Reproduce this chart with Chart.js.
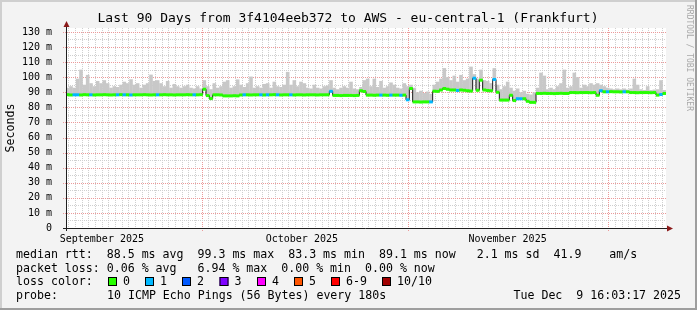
<!DOCTYPE html>
<html>
<head>
<meta charset="utf-8">
<script src="https://cdn.jsdelivr.net/npm/chart.js@4/dist/chart.umd.min.js"></script>
<style>
  html, body { margin: 0; padding: 0; background: #f3f3f3; }
  canvas { display: block; }
</style>
</head>
<body>
<canvas id="c" width="697" height="310" style="width:697px;height:310px"></canvas>
<script>
// samples every 12h, starting Sep 10 16:03 (x = days since Sep 1)
const startDay = 9.669
const stepDays = 0.5

// median rtt per sample (ms)
const median = [
  88.4, 88.2, 88.3, 88.3, 88.2, 88.4, 88.3, 88.3, 88.2, 88.3,
  88.3, 88.4, 88.3, 88.2, 88.3, 88.3, 88.4, 88.3, 88.3, 88.2,
  88.3, 88.3, 88.3, 88.4, 88.3, 88.2, 88.3, 88.3, 88.3, 88.4,
  88.3, 88.3, 88.2, 88.3, 88.3, 88.3, 88.4, 88.3, 88.3, 88.3,
  88.4, 92.0, 87.8, 85.8, 88.3, 88.3, 88.2, 87.6, 87.6, 87.6,
  87.7, 87.6, 88.2, 88.3, 88.3, 88.2, 88.3, 88.3, 88.3, 88.2,
  88.3, 88.3, 88.4, 88.3, 88.2, 88.3, 88.3, 88.3, 88.2, 88.3,
  88.3, 88.2, 88.3, 88.3, 88.3, 88.2, 88.3, 88.3, 88.3, 90.6,
  87.9, 87.9, 87.8, 87.9, 87.9, 87.9, 87.8, 87.9, 91.0, 90.5,
  88.1, 88.1, 88.0, 88.1, 88.1, 88.1, 88.0, 88.1, 88.1, 88.1,
  88.0, 88.1, 85.0, 92.5, 83.6, 83.6, 83.5, 83.6, 83.6, 83.6,
  90.7, 90.6, 91.5, 92.5, 92.0, 91.5, 91.5, 91.2, 91.5, 91.3,
  91.0, 90.8, 99.3, 91.3, 98.0, 91.5, 91.2, 91.0, 98.5, 90.0,
  84.8, 84.8, 84.8, 88.0, 84.5, 85.7, 85.7, 85.7, 84.0, 83.3,
  83.3, 89.2, 89.2, 89.3, 89.2, 89.2, 89.1, 89.2, 89.3, 89.2,
  89.2, 89.8, 89.8, 89.7, 89.8, 89.8, 89.8, 89.7, 89.8, 88.0,
  91.0, 90.3, 90.3, 90.4, 90.3, 90.3, 90.2, 90.3, 90.3, 89.8,
  89.8, 89.7, 89.8, 89.8, 89.8, 89.7, 89.8, 88.1, 88.5, 89.2
]

// highest ping per sample (top of the smoke, ms)
const smokeTop = [
  93, 94, 93, 99, 105, 95, 101.5, 96, 94, 97.5,
  96, 98, 96, 93, 94, 93.5, 95, 97, 96, 98.6,
  95, 96, 93, 95, 96, 101.7, 97.5, 98, 96, 94,
  97.5, 93, 95.5, 94, 93, 94, 95, 93, 92.5, 94,
  92.5, 98, 94, 92, 96, 93, 94, 97, 98, 93,
  94, 98.5, 95, 93.5, 96, 100.4, 93, 94, 93, 95.5,
  96, 93, 97, 94, 93.5, 95, 103.5, 95, 98, 94,
  97, 96, 93, 92.5, 95, 93, 92.5, 94, 94.5, 98,
  93, 92, 93, 94, 93, 97, 92.5, 92, 93.5, 98,
  99, 94, 99, 93.5, 97.5, 93, 94, 96.5, 95, 93,
  92.5, 96, 94, 95, 93, 90, 91, 89.5, 90.5, 89,
  95, 97, 99, 106, 100, 98, 101, 97, 101.5, 98,
  99, 107, 102, 99, 105, 98, 97.5, 96, 106, 95,
  92, 94, 97, 93, 91, 92.5, 90, 91, 89, 88.5,
  90, 93, 103, 101, 92, 93, 92, 94, 96, 105,
  93, 94, 103, 100, 93, 95, 94, 96, 95, 96,
  95, 94, 93, 92.5, 92, 92.5, 92, 92.5, 91.8, 92.5,
  99, 95, 92, 91.5, 94, 91.5, 91.8, 92, 98, 91.5
]

// samples with packet loss (index, lost pings)
const lossSamples = [2, 3, 7, 15, 17, 19, 27, 38, 53, 58, 60, 63, 67, 79, 94, 97, 100, 102, 109, 117, 122, 128, 135, 136, 160, 162, 167, 178]
const lossLevels  = [1, 1, 1, 1, 1, 1, 1, 1, 1, 1, 1, 1, 1, 1, 1, 1, 1, 1, 1, 1, 1, 1, 1, 1, 1, 1, 1, 1]

const lossColors = ["#26ff00", "#00b8ff", "#0059ff", "#7e00ff", "#ff00ff", "#ff5500", "#ff0000", "#a00000"]
const lossNames  = ["0", "1", "2", "3", "4", "5", "6-9", "10/10"]

const monthStarts = [30, 61, 91]
const monthLabelDays = [15.05, 45.05, 75.9]
const monthLabels = ["September 2025", "October 2025", "November 2025"]
const yTicks = [0, 10, 20, 30, 40, 50, 60, 70, 80, 90, 100, 110, 120, 130]

const mono = '"DejaVu Sans Mono", "Liberation Mono", monospace'

const xs = median.map((_, i) => startDay + stepDays * (i + 0.5))
const lossAt = median.map(() => 0)
lossSamples.forEach((s, k) => { lossAt[s] = lossLevels[k] })
const bandColor = lossAt.map(l => lossColors[l >= 10 ? 7 : l >= 6 ? 6 : l])

const smokeData = median.map((m, i) => ({ x: xs[i], y: [m, smokeTop[i]] }))
const bandData  = median.map((m, i) => ({ x: xs[i], y: [m - 1.0, m + 1.0] }))
const lineData  = median.map((m, i) => ({ x: xs[i], y: m }))

const rrdPlugin = {
  id: "rrd",
  beforeDraw(chart) {
    const { ctx, chartArea: a, width: W, height: H } = chart
    ctx.save()
    ctx.fillStyle = "#f3f3f3"
    ctx.fillRect(0, 0, W, H)
    ctx.fillStyle = "#cfcfcf"
    ctx.fillRect(0, 0, W, 2)
    ctx.fillRect(0, 0, 2, H)
    ctx.fillStyle = "#9e9e9e"
    ctx.fillRect(0, H - 2, W, 2)
    ctx.fillRect(W - 2, 0, 2, H)
    ctx.fillStyle = "#ffffff"
    ctx.fillRect(a.left, a.top, a.right - a.left, a.bottom - a.top)
    ctx.restore()
  },
  beforeDatasetsDraw(chart) {
    const { ctx, chartArea: a, scales: { x, y } } = chart
    ctx.save()
    ctx.lineWidth = 1
    ctx.setLineDash([1, 1])
    // vertical: every day dotted grey, month starts red
    for (let d = Math.ceil(x.min); d <= x.max; d++) {
      const px = Math.round(x.getPixelForValue(d)) + 0.5
      const major = monthStarts.includes(d)
      ctx.strokeStyle = major ? "#ec9a9a" : "#cfcfcf"
      ctx.beginPath()
      ctx.moveTo(px, a.top)
      ctx.lineTo(px, major ? a.bottom + 3 : a.bottom)
      ctx.stroke()
    }
    // horizontal: every 5 ms grey, every 10 ms red
    for (let v = 5; v <= y.max; v += 5) {
      const py = Math.round(y.getPixelForValue(v)) + 0.5
      const major = v % 10 === 0
      ctx.strokeStyle = major ? "#ec9a9a" : "#cfcfcf"
      ctx.beginPath()
      ctx.moveTo(major ? a.left - 3 : a.left, py)
      ctx.lineTo(a.right, py)
      ctx.stroke()
    }
    ctx.restore()
  },
  afterDatasetsDraw(chart) {
    const { ctx, chartArea: a } = chart
    ctx.save()
    ctx.strokeStyle = "#1f1f1f"
    ctx.lineWidth = 1
    ctx.beginPath()
    ctx.moveTo(a.left + 0.5, a.bottom + 3)
    ctx.lineTo(a.left + 0.5, a.top - 2)
    ctx.moveTo(a.left - 3, a.bottom + 0.5)
    ctx.lineTo(a.right + 2, a.bottom + 0.5)
    ctx.stroke()
    ctx.fillStyle = "#8b1a1a"
    ctx.beginPath()
    ctx.moveTo(a.left + 0.5, a.top - 7)
    ctx.lineTo(a.left - 2.5, a.top - 1)
    ctx.lineTo(a.left + 3.5, a.top - 1)
    ctx.closePath()
    ctx.fill()
    ctx.beginPath()
    ctx.moveTo(a.right + 7, a.bottom + 0.5)
    ctx.lineTo(a.right + 1, a.bottom - 2.5)
    ctx.lineTo(a.right + 1, a.bottom + 3.5)
    ctx.closePath()
    ctx.fill()
    ctx.restore()
  },
  afterDraw(chart) {
    const { ctx, width: W } = chart
    ctx.save()
    ctx.fillStyle = "#000"
    ctx.textBaseline = "middle"

    ctx.font = "13px " + mono
    ctx.textAlign = "center"
    ctx.fillText("Last 90 Days from 3f4104eeb372 to AWS - eu-central-1 (Frankfurt)", 348, 19)

    ctx.font = "11.6px " + mono
    ctx.save()
    ctx.translate(10.5, 128)
    ctx.rotate(-Math.PI / 2)
    ctx.fillText("Seconds", 0, 0)
    ctx.restore()

    ctx.save()
    ctx.font = "8px " + mono
    ctx.fillStyle = "#a8a8a8"
    ctx.translate(689, 5)
    ctx.rotate(Math.PI / 2)
    ctx.textAlign = "left"
    ctx.fillText("RRDTOOL / TOBI OETIKER", 0, 0)
    ctx.restore()

    ctx.textAlign = "left"
    ctx.fillText("median rtt:  88.5 ms avg  99.3 ms max  83.3 ms min  89.1 ms now   2.1 ms sd  41.9    am/s", 16, 255)
    ctx.fillText("packet loss: 0.06 % avg   6.94 % max  0.00 % min  0.00 % now", 16, 268.5)
    ctx.fillText("loss color:", 16, 282)
    ctx.fillText("probe:", 16, 296)
    ctx.fillText("10 ICMP Echo Pings (56 Bytes) every 180s", 107, 296)
    ctx.textAlign = "right"
    ctx.fillText("Tue Dec  9 16:03:17 2025", W - 16, 296)

    const boxX = [108, 145, 182, 219.5, 257, 294, 331, 382]
    ctx.textAlign = "left"
    lossColors.forEach((c, i) => {
      ctx.fillStyle = c
      ctx.fillRect(boxX[i], 277, 9, 9)
      ctx.strokeStyle = "#000"
      ctx.lineWidth = 1
      ctx.strokeRect(boxX[i] + 0.5, 277.5, 8, 8)
      ctx.fillStyle = "#000"
      ctx.fillText(lossNames[i], boxX[i] + 15, 282)
    })
    ctx.restore()
  }
}

new Chart(document.getElementById("c"), {
  type: "bar",
  data: {
    datasets: [
      {
        type: "bar",
        data: bandData,
        backgroundColor: bandColor,
        borderWidth: 0,
        grouped: false,
        categoryPercentage: 1,
        barPercentage: 1.08,
        order: 0
      },
      {
        type: "line",
        data: lineData,
        borderColor: "#1a1a1a",
        borderWidth: 1,
        pointRadius: 0,
        stepped: "middle",
        fill: false,
        order: 1
      },
      {
        type: "bar",
        data: smokeData,
        backgroundColor: "#c8c8c8",
        borderWidth: 0,
        grouped: false,
        categoryPercentage: 1,
        barPercentage: 1.08,
        order: 2
      }
    ]
  },
  options: {
    responsive: false,
    animation: false,
    devicePixelRatio: 1,
    layout: { autoPadding: false, padding: { left: 0, top: 28, right: 31, bottom: 58 } },
    plugins: { legend: { display: false }, tooltip: { enabled: false } },
    scales: {
      x: {
        type: "linear",
        min: startDay,
        max: startDay + 90,
        offset: false,
        grid: { display: false },
        border: { display: false },
        afterFit(s) { s.height = 24; s.paddingLeft = 0; s.paddingRight = 0 },
        afterBuildTicks(s) { s.ticks = monthLabelDays.map(v => ({ value: v })) },
        ticks: {
          autoSkip: false,
          maxRotation: 0,
          minRotation: 0,
          padding: -3,
          color: "#000",
          font: { family: mono, size: 10 },
          callback: (v, i) => monthLabels[i]
        }
      },
      y: {
        min: 0,
        max: 132.6,
        grid: { display: false },
        border: { display: false },
        afterFit(s) { s.width = 66; s.paddingTop = 0; s.paddingBottom = 0 },
        afterBuildTicks(s) { s.ticks = yTicks.map(v => ({ value: v })) },
        ticks: {
          padding: 6,
          color: "#000",
          font: { family: mono, size: 10 },
          callback: v => v === 0 ? "0" : v + " m"
        }
      }
    }
  },
  plugins: [rrdPlugin]
})
</script>
</body>
</html>
